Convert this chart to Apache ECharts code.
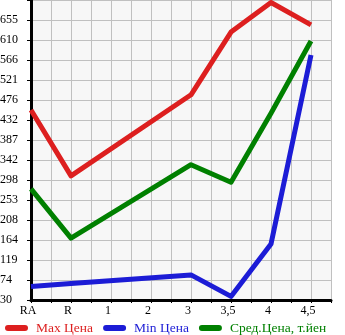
<!DOCTYPE html>
<html>
<head>
<meta charset="utf-8">
<script src="https://cdn.jsdelivr.net/npm/echarts@6/dist/echarts.min.js"></script>
<style>
html,body{margin:0;padding:0;background:#fff;}
#c{width:345px;height:335px;}
</style>
</head>
<body>
<div id="c"></div>
<script>
// Data
var categories = ['RA', 'R', '1', '2', '3', '3,5', '4', '4,5'];
var maxPrice = [454, 307, null, null, 488, 628, 694, 644];
var minPrice = [60, 67, null, null, 86, 38, 155, 577];
var avgPrice = [278, 168, null, null, 332, 293, 447, 608];
var yTickLabels = ['30', '74', '119', '164', '208', '253', '298', '342', '387', '432', '476', '521', '566', '610', '655'];
var seriesNames = ['Max Цена', 'Min Цена', 'Сред.Цена, т.йен'];
var yMin = 30, yStep = 44.64, yCount = 15;

var colors = ['#dd1f1f', '#1c1cd6', '#008000'];

// half-step slots between categories (gridlines every half category)
var xData = [];
categories.forEach(function (c) { xData.push(c); xData.push(''); });
function expand(arr) {
  var out = [];
  arr.forEach(function (v) { out.push(v); out.push(null); });
  return out;
}

var font = 'Liberation Serif';
var chart = echarts.init(document.getElementById('c'), null, {renderer: 'canvas'});
chart.setOption({
  animation: false,
  backgroundColor: '#ffffff',
  grid: {
    left: 31, right: 14, top: 0, bottom: 35,
    show: true, backgroundColor: '#f7f7f7', borderWidth: 0,
    containLabel: false, outerBoundsMode: 'none'
  },
  xAxis: {
    type: 'category',
    data: xData,
    boundaryGap: false,
    axisLine: {show: true, lineStyle: {color: '#000', width: 3}},
    axisTick: {show: true, interval: 0, length: 3, lineStyle: {color: '#000', width: 1}},
    splitLine: {show: true, interval: 0, lineStyle: {color: '#c0c0c0', width: 1}},
    axisLabel: {
      interval: function (i) { return i % 2 === 0; },
      fontFamily: font, fontSize: 12, color: '#000', margin: 5,
      padding: [0, 6, 0, 0]
    }
  },
  yAxis: {
    type: 'value',
    min: yMin, max: yMin + yStep * yCount, interval: yStep,
    axisLine: {show: true, lineStyle: {color: '#000', width: 3}},
    axisTick: {show: true, length: 4, lineStyle: {color: '#000', width: 1}},
    splitLine: {show: true, lineStyle: {color: '#c0c0c0', width: 1}},
    axisLabel: {
      formatter: function (v, i) { return yTickLabels[i] || ''; },
      align: 'left', margin: 31,
      fontFamily: font, fontSize: 12, color: '#000',
      padding: [0, 0, 10, 0]
    }
  },
  legend: {
    left: 0, top: 316,
    itemWidth: 23, itemHeight: 6, itemGap: 10,
    icon: 'path://M3,0 H20 A3,3 0 0 1 20,6 H3 A3,3 0 0 1 3,0 Z',
    textStyle: {fontFamily: font, fontSize: 13.5, padding: [0, 0, 0, 3]},
    data: seriesNames.map(function (n, i) {
      return {name: n, textStyle: {color: colors[i]}};
    })
  },
  series: [maxPrice, minPrice, avgPrice].map(function (arr, i) {
    return {
      name: seriesNames[i],
      type: 'line',
      data: expand(arr),
      connectNulls: true,
      symbol: 'none',
      color: colors[i],
      lineStyle: {width: 5, color: colors[i], join: 'round'}
    };
  })
});
</script>
</body>
</html>
